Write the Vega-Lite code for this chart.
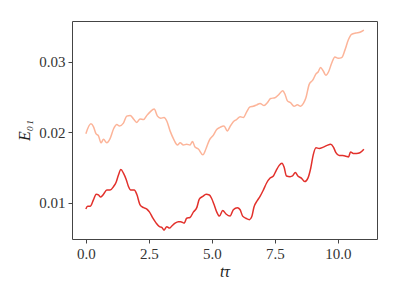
{
  "$schema": "https://vega.github.io/schema/vega-lite/v6.json",
  "autosize": "none",
  "width": 305,
  "height": 218,
  "padding": {"left": 72, "top": 21, "right": 22, "bottom": 60},
  "background": "white",
  "config": {
    "view": {"stroke": "#444444", "strokeWidth": 1},
    "font": "'Liberation Serif', 'DejaVu Serif', serif",
    "axis": {
      "domain": false,
      "grid": false,
      "tickColor": "#444444",
      "tickSize": 4,
      "labelFont": "'Liberation Serif', 'DejaVu Serif', serif",
      "labelFontSize": 15,
      "labelColor": "#333333",
      "titleFont": "'Liberation Serif', 'DejaVu Serif', serif",
      "titleFontSize": 16,
      "titleFontWeight": "normal",
      "titleFontStyle": "italic",
      "titleColor": "#222222"
    }
  },
  "data": {"values": [
    {"t": 0, "E": 0.0198, "s": "a"},
    {"t": 0.2, "E": 0.0212, "s": "a"},
    {"t": 0.3, "E": 0.0208, "s": "a"},
    {"t": 0.4, "E": 0.0198, "s": "a"},
    {"t": 0.5, "E": 0.0195, "s": "a"},
    {"t": 0.6, "E": 0.0185, "s": "a"},
    {"t": 0.7, "E": 0.019, "s": "a"},
    {"t": 0.83, "E": 0.0185, "s": "a"},
    {"t": 0.96, "E": 0.0191, "s": "a"},
    {"t": 1.1, "E": 0.0205, "s": "a"},
    {"t": 1.23, "E": 0.0211, "s": "a"},
    {"t": 1.33, "E": 0.0209, "s": "a"},
    {"t": 1.49, "E": 0.0213, "s": "a"},
    {"t": 1.62, "E": 0.0223, "s": "a"},
    {"t": 1.76, "E": 0.0224, "s": "a"},
    {"t": 1.89, "E": 0.0219, "s": "a"},
    {"t": 2.02, "E": 0.0214, "s": "a"},
    {"t": 2.15, "E": 0.0219, "s": "a"},
    {"t": 2.29, "E": 0.0218, "s": "a"},
    {"t": 2.42, "E": 0.0224, "s": "a"},
    {"t": 2.55, "E": 0.0229, "s": "a"},
    {"t": 2.71, "E": 0.0233, "s": "a"},
    {"t": 2.84, "E": 0.0223, "s": "a"},
    {"t": 2.97, "E": 0.022, "s": "a"},
    {"t": 3.1, "E": 0.0221, "s": "a"},
    {"t": 3.21, "E": 0.0216, "s": "a"},
    {"t": 3.34, "E": 0.0202, "s": "a"},
    {"t": 3.5, "E": 0.0189, "s": "a"},
    {"t": 3.63, "E": 0.0182, "s": "a"},
    {"t": 3.74, "E": 0.0185, "s": "a"},
    {"t": 3.87, "E": 0.0182, "s": "a"},
    {"t": 4.0, "E": 0.0183, "s": "a"},
    {"t": 4.13, "E": 0.0182, "s": "a"},
    {"t": 4.23, "E": 0.0187, "s": "a"},
    {"t": 4.33, "E": 0.0179, "s": "a"},
    {"t": 4.47, "E": 0.0176, "s": "a"},
    {"t": 4.64, "E": 0.0168, "s": "a"},
    {"t": 4.77, "E": 0.0177, "s": "a"},
    {"t": 4.9, "E": 0.0189, "s": "a"},
    {"t": 5.06, "E": 0.0196, "s": "a"},
    {"t": 5.19, "E": 0.0204, "s": "a"},
    {"t": 5.32, "E": 0.0207, "s": "a"},
    {"t": 5.48, "E": 0.0209, "s": "a"},
    {"t": 5.61, "E": 0.0202, "s": "a"},
    {"t": 5.75, "E": 0.021, "s": "a"},
    {"t": 5.88, "E": 0.0216, "s": "a"},
    {"t": 5.98, "E": 0.0218, "s": "a"},
    {"t": 6.12, "E": 0.0222, "s": "a"},
    {"t": 6.25, "E": 0.0221, "s": "a"},
    {"t": 6.38, "E": 0.0229, "s": "a"},
    {"t": 6.51, "E": 0.0236, "s": "a"},
    {"t": 6.64, "E": 0.0237, "s": "a"},
    {"t": 6.78, "E": 0.0239, "s": "a"},
    {"t": 6.91, "E": 0.0241, "s": "a"},
    {"t": 7.07, "E": 0.0238, "s": "a"},
    {"t": 7.2, "E": 0.0242, "s": "a"},
    {"t": 7.33, "E": 0.0248, "s": "a"},
    {"t": 7.5, "E": 0.0249, "s": "a"},
    {"t": 7.64, "E": 0.0253, "s": "a"},
    {"t": 7.81, "E": 0.0259, "s": "a"},
    {"t": 7.9, "E": 0.0254, "s": "a"},
    {"t": 7.99, "E": 0.0245, "s": "a"},
    {"t": 8.12, "E": 0.0242, "s": "a"},
    {"t": 8.26, "E": 0.0237, "s": "a"},
    {"t": 8.39, "E": 0.0239, "s": "a"},
    {"t": 8.52, "E": 0.0237, "s": "a"},
    {"t": 8.63, "E": 0.0241, "s": "a"},
    {"t": 8.73, "E": 0.0249, "s": "a"},
    {"t": 8.86, "E": 0.0268, "s": "a"},
    {"t": 9.0, "E": 0.0274, "s": "a"},
    {"t": 9.13, "E": 0.0283, "s": "a"},
    {"t": 9.22, "E": 0.0286, "s": "a"},
    {"t": 9.31, "E": 0.0292, "s": "a"},
    {"t": 9.42, "E": 0.0287, "s": "a"},
    {"t": 9.52, "E": 0.0281, "s": "a"},
    {"t": 9.63, "E": 0.0286, "s": "a"},
    {"t": 9.75, "E": 0.0298, "s": "a"},
    {"t": 9.88, "E": 0.0307, "s": "a"},
    {"t": 10.01, "E": 0.0305, "s": "a"},
    {"t": 10.15, "E": 0.0306, "s": "a"},
    {"t": 10.28, "E": 0.0317, "s": "a"},
    {"t": 10.41, "E": 0.0331, "s": "a"},
    {"t": 10.54, "E": 0.0339, "s": "a"},
    {"t": 10.71, "E": 0.0341, "s": "a"},
    {"t": 10.87, "E": 0.0342, "s": "a"},
    {"t": 11.03, "E": 0.0345, "s": "a"},
    {"t": 0, "E": 0.0091, "s": "b"},
    {"t": 0.07, "E": 0.0095, "s": "b"},
    {"t": 0.17, "E": 0.0095, "s": "b"},
    {"t": 0.3, "E": 0.0104, "s": "b"},
    {"t": 0.41, "E": 0.0112, "s": "b"},
    {"t": 0.5, "E": 0.0111, "s": "b"},
    {"t": 0.59, "E": 0.0108, "s": "b"},
    {"t": 0.7, "E": 0.0112, "s": "b"},
    {"t": 0.83, "E": 0.0118, "s": "b"},
    {"t": 0.96, "E": 0.0118, "s": "b"},
    {"t": 1.1, "E": 0.0123, "s": "b"},
    {"t": 1.2, "E": 0.0129, "s": "b"},
    {"t": 1.29, "E": 0.0139, "s": "b"},
    {"t": 1.39, "E": 0.0147, "s": "b"},
    {"t": 1.49, "E": 0.0142, "s": "b"},
    {"t": 1.6, "E": 0.0133, "s": "b"},
    {"t": 1.69, "E": 0.0123, "s": "b"},
    {"t": 1.78, "E": 0.0118, "s": "b"},
    {"t": 1.92, "E": 0.0118, "s": "b"},
    {"t": 2.02, "E": 0.0112, "s": "b"},
    {"t": 2.15, "E": 0.0097, "s": "b"},
    {"t": 2.29, "E": 0.0093, "s": "b"},
    {"t": 2.42, "E": 0.0091, "s": "b"},
    {"t": 2.52, "E": 0.0087, "s": "b"},
    {"t": 2.66, "E": 0.0078, "s": "b"},
    {"t": 2.79, "E": 0.0071, "s": "b"},
    {"t": 2.92, "E": 0.0066, "s": "b"},
    {"t": 3.01, "E": 0.0065, "s": "b"},
    {"t": 3.1, "E": 0.0061, "s": "b"},
    {"t": 3.21, "E": 0.0066, "s": "b"},
    {"t": 3.32, "E": 0.0064, "s": "b"},
    {"t": 3.41, "E": 0.0067, "s": "b"},
    {"t": 3.54, "E": 0.0071, "s": "b"},
    {"t": 3.67, "E": 0.0073, "s": "b"},
    {"t": 3.76, "E": 0.0073, "s": "b"},
    {"t": 3.9, "E": 0.0071, "s": "b"},
    {"t": 4.0, "E": 0.0078, "s": "b"},
    {"t": 4.13, "E": 0.0079, "s": "b"},
    {"t": 4.27, "E": 0.0087, "s": "b"},
    {"t": 4.4, "E": 0.0093, "s": "b"},
    {"t": 4.5, "E": 0.0105, "s": "b"},
    {"t": 4.64, "E": 0.0109, "s": "b"},
    {"t": 4.77, "E": 0.0112, "s": "b"},
    {"t": 4.9, "E": 0.0111, "s": "b"},
    {"t": 4.99, "E": 0.0106, "s": "b"},
    {"t": 5.09, "E": 0.0097, "s": "b"},
    {"t": 5.19, "E": 0.0087, "s": "b"},
    {"t": 5.3, "E": 0.0081, "s": "b"},
    {"t": 5.43, "E": 0.0089, "s": "b"},
    {"t": 5.56, "E": 0.0084, "s": "b"},
    {"t": 5.72, "E": 0.0081, "s": "b"},
    {"t": 5.85, "E": 0.009, "s": "b"},
    {"t": 6.01, "E": 0.0093, "s": "b"},
    {"t": 6.12, "E": 0.009, "s": "b"},
    {"t": 6.22, "E": 0.0081, "s": "b"},
    {"t": 6.35, "E": 0.0078, "s": "b"},
    {"t": 6.49, "E": 0.0076, "s": "b"},
    {"t": 6.58, "E": 0.008, "s": "b"},
    {"t": 6.67, "E": 0.0094, "s": "b"},
    {"t": 6.8, "E": 0.0103, "s": "b"},
    {"t": 6.91, "E": 0.0109, "s": "b"},
    {"t": 7.04, "E": 0.0118, "s": "b"},
    {"t": 7.17, "E": 0.0128, "s": "b"},
    {"t": 7.31, "E": 0.0135, "s": "b"},
    {"t": 7.44, "E": 0.0138, "s": "b"},
    {"t": 7.54, "E": 0.0145, "s": "b"},
    {"t": 7.67, "E": 0.0153, "s": "b"},
    {"t": 7.78, "E": 0.0156, "s": "b"},
    {"t": 7.86, "E": 0.0151, "s": "b"},
    {"t": 7.96, "E": 0.0138, "s": "b"},
    {"t": 8.1, "E": 0.0137, "s": "b"},
    {"t": 8.2, "E": 0.0138, "s": "b"},
    {"t": 8.31, "E": 0.0143, "s": "b"},
    {"t": 8.41, "E": 0.0138, "s": "b"},
    {"t": 8.55, "E": 0.0135, "s": "b"},
    {"t": 8.68, "E": 0.013, "s": "b"},
    {"t": 8.81, "E": 0.0135, "s": "b"},
    {"t": 8.92, "E": 0.0149, "s": "b"},
    {"t": 9.02, "E": 0.0168, "s": "b"},
    {"t": 9.13, "E": 0.0178, "s": "b"},
    {"t": 9.26, "E": 0.0177, "s": "b"},
    {"t": 9.42, "E": 0.0179, "s": "b"},
    {"t": 9.55, "E": 0.0181, "s": "b"},
    {"t": 9.71, "E": 0.0183, "s": "b"},
    {"t": 9.82, "E": 0.0179, "s": "b"},
    {"t": 9.92, "E": 0.0171, "s": "b"},
    {"t": 10.05, "E": 0.0167, "s": "b"},
    {"t": 10.19, "E": 0.0167, "s": "b"},
    {"t": 10.32, "E": 0.0166, "s": "b"},
    {"t": 10.42, "E": 0.0165, "s": "b"},
    {"t": 10.5, "E": 0.0172, "s": "b"},
    {"t": 10.61, "E": 0.017, "s": "b"},
    {"t": 10.74, "E": 0.017, "s": "b"},
    {"t": 10.87, "E": 0.0171, "s": "b"},
    {"t": 11.03, "E": 0.0176, "s": "b"}
  ]},
  "mark": {"type": "line", "strokeWidth": 1.5, "interpolate": "monotone"},
  "encoding": {
    "x": {
      "field": "t", "type": "quantitative",
      "scale": {"domain": [-0.55, 11.55], "nice": false, "zero": false},
      "axis": {"values": [0, 2.5, 5, 7.5, 10], "format": ".1f", "title": "tτ", "titlePadding": 2, "labelPadding": 3}
    },
    "y": {
      "field": "E", "type": "quantitative",
      "scale": {"domain": [0.00485, 0.0358], "nice": false, "zero": false},
      "axis": {"values": [0.01, 0.02, 0.03], "format": ".2f", "title": "E₀₁", "titlePadding": 6, "labelPadding": 3}
    },
    "color": {
      "field": "s", "type": "nominal",
      "scale": {"domain": ["a", "b"], "range": ["#fcb499", "#e2302b"]},
      "legend": null
    }
  }
}
